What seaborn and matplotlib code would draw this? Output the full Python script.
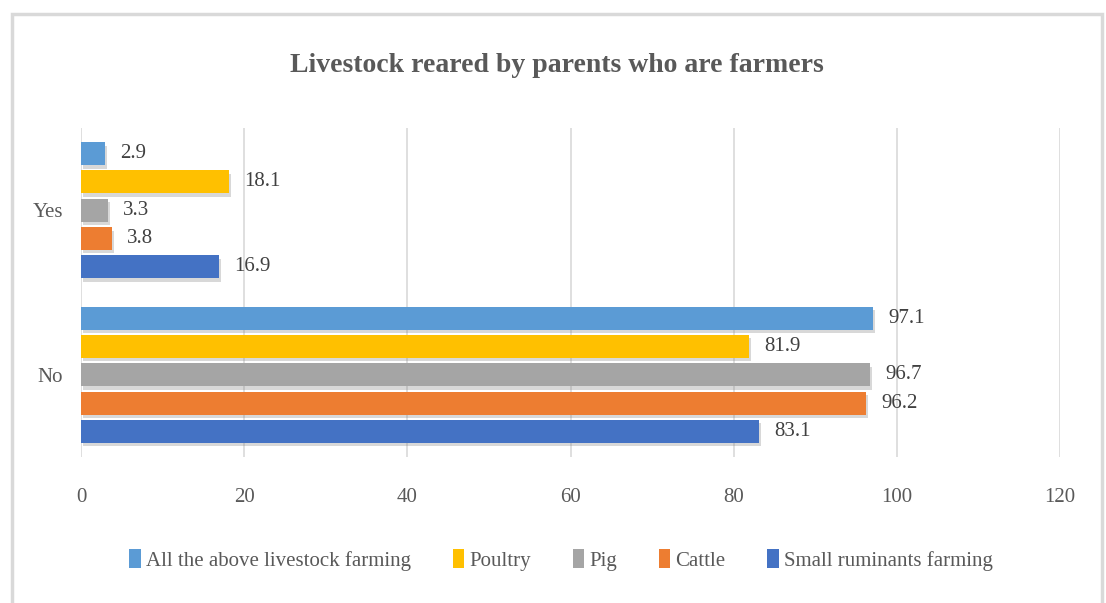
import matplotlib
matplotlib.use("Agg")
import matplotlib.pyplot as plt
import matplotlib.patheffects as pe
from matplotlib.patches import Patch, Rectangle
import seaborn as sns
import pandas as pd

# ---- data ----
categories = ["Yes", "No"]
series_names = ["All the above livestock farming", "Poultry", "Pig", "Cattle",
                "Small ruminants farming"]
all_above = [2.9, 97.1]
poultry = [18.1, 81.9]
pig = [3.3, 96.7]
cattle = [3.8, 96.2]
small_ruminants = [16.9, 83.1]
x_ticks = [0, 20, 40, 60, 80, 100, 120]
title = "Livestock reared by parents who are farmers"

colors = ["#5B9BD5", "#FFC000", "#A5A5A5", "#ED7D31", "#4472C4"]

series_values = [all_above, poultry, pig, cattle, small_ruminants]
rows = []
for name, vals in zip(series_names, series_values):
    for cat, v in zip(categories, vals):
        rows.append({"Answer": cat, "Series": name, "Value": v})
df = pd.DataFrame(rows)

sns.set_theme(style="white")
plt.rcParams["font.family"] = ["Liberation Serif", "DejaVu Serif"]

W, H = 1106, 603
fig = plt.figure(figsize=(W / 100, H / 100), dpi=100)
fig.patch.set_facecolor("white")

# chart border
fig.patches.append(Rectangle((12 / W, -0.05), (1102 - 12) / W, (H - 14) / H + 0.05,
                             transform=fig.transFigure, fill=False,
                             edgecolor="#D9D9D9", lw=2.5, zorder=0))

ax = fig.add_axes([81 / W, (H - 457) / H, (1060 - 81) / W, (457 - 128) / H])

sns.barplot(data=df, y="Answer", x="Value", hue="Series", order=categories,
            hue_order=series_names, palette=colors, saturation=1, orient="h",
            width=0.86, gap=0.19, errorbar=None, legend=False, ax=ax, zorder=3,
            linewidth=0, edgecolor="none")

shadow = [pe.SimplePatchShadow(offset=(1.5, -2.5), shadow_rgbFace="#7F7F7F", alpha=0.3),
          pe.Normal()]
for cont in ax.containers:
    for bar in cont:
        bar.set_linewidth(0)
        bar.set_path_effects(shadow)
    ax.bar_label(cont, fmt="%.1f", padding=11, fontsize=15, color="#404040")

ax.set_xlim(0, 120)
ax.set_xticks(x_ticks)
ax.set_xticklabels([str(t) for t in x_ticks])
ax.grid(axis="x", color="#D9D9D9", lw=1.2, zorder=0)
ax.grid(axis="y", visible=False)
for s in ax.spines.values():
    s.set_visible(False)
ax.set_xlabel("")
ax.set_ylabel("")
ax.tick_params(axis="x", length=0, pad=22, labelsize=15, labelcolor="#595959")
ax.tick_params(axis="y", length=0, pad=13, labelsize=15, labelcolor="#595959")
ax.set_facecolor("white")

fig.text(557 / W, 1 - 65 / H, title, ha="center", va="center", fontsize=20,
         fontweight="bold", color="#595959")

handles = [Patch(facecolor=c, edgecolor="none") for c in colors]
fig.legend(handles, series_names, loc="center", bbox_to_anchor=(561 / W, 1 - 560 / H),
           ncol=5, frameon=False, fontsize=15, handlelength=0.55, handleheight=1.0,
           handletextpad=0.25, columnspacing=2.0, labelcolor="#595959")

fig.savefig("out.png", dpi=100, facecolor="white")
